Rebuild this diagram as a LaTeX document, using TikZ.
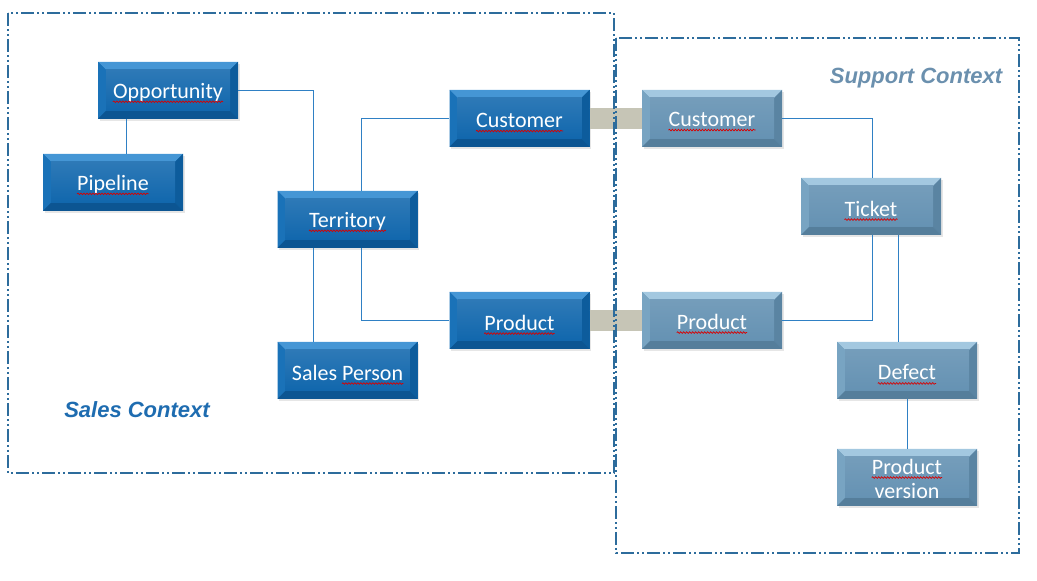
\documentclass[tikz,border=0pt]{standalone}
\usepackage{fontspec}
\setmainfont{Carlito}
\newfontfamily\arialfont{Liberation Sans}
\usetikzlibrary{shadows,decorations.pathmorphing}
\definecolor{sfill}{HTML}{1167AD}
\definecolor{stop}{HTML}{4596D5}
\definecolor{sleft}{HTML}{1A72B8}
\definecolor{sright}{HTML}{0D5C9C}
\definecolor{sbot}{HTML}{0C5592}
\definecolor{pfill}{HTML}{6592B3}
\definecolor{ptop}{HTML}{A3C8E0}
\definecolor{pleft}{HTML}{78A4C2}
\definecolor{pright}{HTML}{5A84A2}
\definecolor{pbot}{HTML}{557E9B}
\definecolor{conncol}{HTML}{2F80C4}
\definecolor{bandcol}{HTML}{C6C5B6}
\definecolor{ctxline}{HTML}{2D6C9C}
\definecolor{salestxt}{HTML}{1E6CB0}
\definecolor{supptxt}{HTML}{6B90AE}
\newcommand\bv{8pt}
\newcommand\ppb{path picture bounding box}
\tikzset{
  bevel/.style n args={6}{fill=#1, drop shadow={shadow xshift=1.5pt,shadow yshift=-2pt,opacity=0.2},
    minimum width=140pt, minimum height=57pt, inner sep=0pt,
    path picture={
      \fill[#2] (\ppb.north west) -- (\ppb.north east) -- ([xshift=-\bv,yshift=-\bv]\ppb.north east) -- ([xshift=\bv,yshift=-\bv]\ppb.north west) -- cycle;
      \fill[#3] (\ppb.north west) -- ([xshift=\bv,yshift=-\bv]\ppb.north west) -- ([xshift=\bv,yshift=\bv]\ppb.south west) -- (\ppb.south west) -- cycle;
      \fill[#4] (\ppb.north east) -- ([xshift=-\bv,yshift=-\bv]\ppb.north east) -- ([xshift=-\bv,yshift=\bv]\ppb.south east) -- (\ppb.south east) -- cycle;
      \fill[#5] (\ppb.south west) -- ([xshift=\bv,yshift=\bv]\ppb.south west) -- ([xshift=-\bv,yshift=\bv]\ppb.south east) -- (\ppb.south east) -- cycle;
      \shade[top color=#6, bottom color=#1] ([xshift=\bv,yshift=-\bv]\ppb.north west) rectangle ([xshift=-\bv,yshift=\bv]\ppb.south east);
    }},
  salesbox/.style={bevel={sfill}{stop}{sleft}{sright}{sbot}{sfill!88!white}},
  suppbox/.style={bevel={pfill}{ptop}{pleft}{pright}{pbot}{pfill!90!white}},
  boxtext/.style={text=white, inner sep=0pt, font=\fontsize{22}{25}\selectfont},
  squig/.style={draw=red!85!black, line width=0.7pt, decorate, decoration={snake, amplitude=0.8pt, segment length=3pt}},
  conn/.style={draw=conncol, line width=0.8pt},
  band/.style={draw=bandcol, line width=21pt},
  ctx/.style={draw=ctxline, line width=1.2pt, dash pattern=on 13pt off 3pt on 2pt off 3pt on 2pt off 3pt},
  ctxlabel/.style={font=\arialfont\bfseries\itshape\fontsize{22}{25}\selectfont},
}
\newcommand\sqline[1]{\draw[squig] ([yshift=-3.5pt]#1.base west) -- ([yshift=-3.5pt]#1.base east);}
\begin{document}
\begin{tikzpicture}[x=1pt,y=1pt]
\useasboundingbox (0,0) rectangle (1037,581);
% boxes
\node[salesbox] (opp) at (168,490.5) {};
\node[salesbox] (pipe) at (113,398.5) {};
\node[salesbox] (terr) at (347.5,361.5) {};
\node[salesbox] (sp) at (347.5,210.5) {};
\node[salesbox] (cus1) at (519.5,462.5) {};
\node[salesbox] (prod1) at (519.5,260.5) {};
\node[suppbox] (cus2) at (712,462.5) {};
\node[suppbox] (prod2) at (712,260.5) {};
\node[suppbox] (tick) at (871,374.5) {};
\node[suppbox] (def) at (907,210.5) {};
\node[suppbox] (pv) at (907,103.5) {};
% bands between shared concepts
\draw[band] (cus1.east) -- (cus2.west);
\draw[band] (prod1.east) -- (prod2.west);
% context frames
\coordinate (s1) at (8,568);
\coordinate (s2) at (614,108);
\coordinate (u1) at (616,543);
\coordinate (u2) at (1019,28);
\draw[ctx] (s1) rectangle (s2);
\draw[ctx] (u1) rectangle (u2);
\node[ctxlabel, text=salestxt] (slab) at (137,171) {Sales Context};
\node[ctxlabel, text=supptxt] (ulab) at (916,503) {Support Context};
% texts
\node[boxtext] (t1) at ([yshift=-2pt]opp.center) {Opportunity};
\node[boxtext] (t2) at ([yshift=-2pt]pipe.center) {Pipeline};
\node[boxtext] (t3) at ([yshift=-2pt]terr.center) {Territory};
\node[boxtext] (t4) at ([yshift=-2pt]sp.center) {Sales Person};
\node[boxtext, anchor=base east] (t4b) at (t4.base east) {\phantom{Person}};
\node[boxtext] (t5) at ([yshift=-2pt]cus1.center) {Customer};
\node[boxtext] (t6) at ([yshift=-2pt]prod1.center) {Product};
\node[boxtext] (t7) at ([yshift=-1pt]cus2.center) {Customer};
\node[boxtext] (t8) at ([yshift=-1pt]prod2.center) {Product};
\node[boxtext] (t9) at ([yshift=-2pt]tick.center) {Ticket};
\node[boxtext] (t10) at ([yshift=-2pt]def.center) {Defect};
\node[boxtext] (t11) at ([yshift=11pt]pv.center) {Product};
\node[boxtext] (t12) at ([yshift=-14pt]pv.center) {version};
\sqline{t1}\sqline{t2}\sqline{t3}\sqline{t4b}\sqline{t5}\sqline{t6}
\sqline{t7}\sqline{t8}\sqline{t9}\sqline{t10}\sqline{t11}
% connectors
\draw[conn] (opp.east) -| ([xshift=-34.5pt]terr.north);
\draw[conn] ([xshift=-42pt]opp.south) -- ([xshift=13pt]pipe.north);
\draw[conn] ([xshift=13.5pt]terr.north) |- (cus1.west);
\draw[conn] ([xshift=-34.5pt]terr.south) -- ([xshift=-34.5pt]sp.north);
\draw[conn] ([xshift=13.5pt]terr.south) |- (prod1.west);
\draw[conn] (cus2.east) -| ([xshift=1pt]tick.north);
\draw[conn] ([xshift=1pt]tick.south) |- (prod2.east);
\draw[conn] ([xshift=27pt]tick.south) -- ([xshift=-9pt]def.north);
\draw[conn] (def.south) -- (pv.north);
\end{tikzpicture}
\end{document}
